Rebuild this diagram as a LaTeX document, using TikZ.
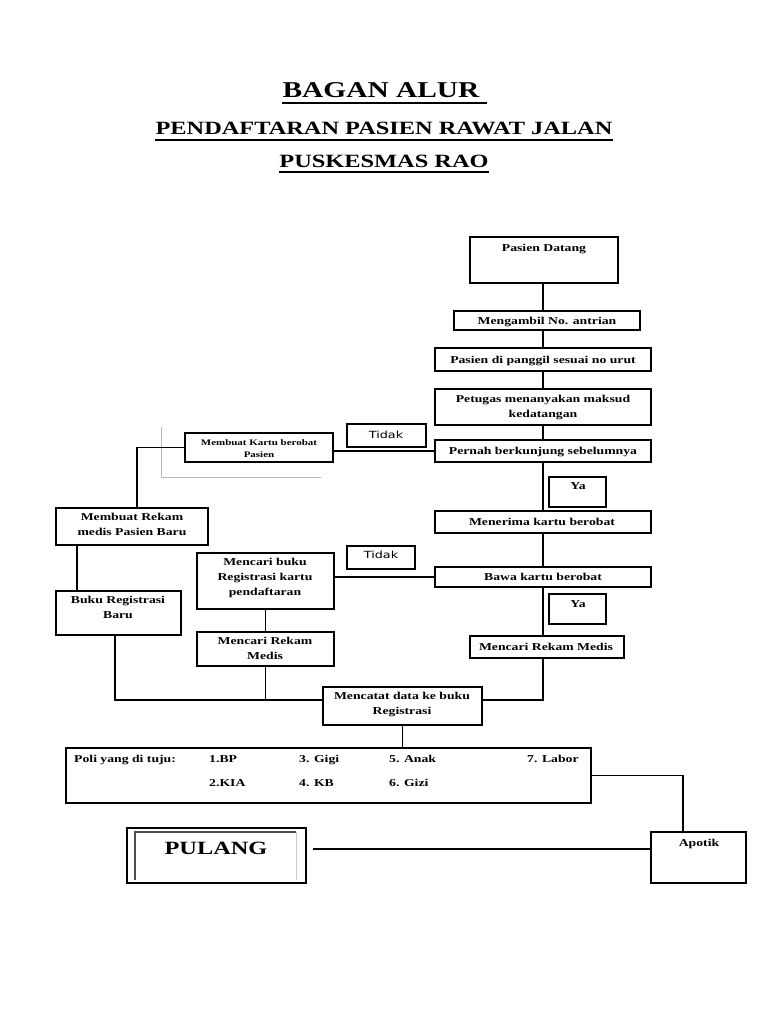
\documentclass[tikz,border=0pt]{standalone}
\usepackage{fontspec}
\setmainfont[FakeStretch=1.3]{Liberation Serif}
\newfontfamily\sansf[FakeStretch=1.3]{DejaVu Sans}
\usetikzlibrary{fit,calc}
\tikzset{
  bx/.style={draw, line width=1.1pt, fill=white, inner sep=0pt},
  ln/.style={line width=1pt},
  tx/.style={font=\fontsize{9}{12.6}\selectfont\bfseries, align=center, inner sep=0pt, anchor=base},
  txs/.style={font=\fontsize{7.2}{10}\selectfont\bfseries, align=center, inner sep=0pt, anchor=base},
  tid/.style={font=\sansf\fontsize{8.4}{10}\selectfont, inner sep=0pt, anchor=base},
  pl/.style={font=\fontsize{9}{12.6}\selectfont\bfseries, inner sep=0pt, anchor=base west},
  ttl/.style={inner sep=0pt, anchor=base},
  ul/.style={line width=1.2pt},
}
\begin{document}
\begin{tikzpicture}[x=0.03cm,y=-0.03cm]
\useasboundingbox[fill=white] (0,0) rectangle (768,1024);

% titles
\node[ttl, font=\fontsize{19.3}{22}\selectfont\bfseries] (t1) at (381,97) {BAGAN ALUR};
\draw[ul] (282,103) -- (487,103);
\node[ttl, font=\fontsize{16}{19}\selectfont\bfseries] (t2) at (384,134) {PENDAFTARAN PASIEN RAWAT JALAN};
\draw[ul] ($(t2.base west)+(0,6)$) -- ($(t2.base east)+(0,6)$);
\node[ttl, font=\fontsize{16}{19}\selectfont\bfseries] (t3) at (384,167) {PUSKESMAS RAO};
\draw[ul] ($(t3.base west)+(0,5)$) -- ($(t3.base east)+(0,5)$);

% helper coordinates
\coordinate (sp) at (543,0);
\coordinate (j) at (0,700);
\coordinate (c1) at (137,0);
\coordinate (c2) at (77,0);
\coordinate (c3) at (115,0);
\coordinate (c4) at (683,0);
\coordinate (pe) at (313,849);

% gray lines
\draw[gray!55, line width=0.7pt] (161,427) -- (161,477) -- (321,477);

% boxes
\node[bx, fit={(470,237) (618,283)}] (pd) {};
\node[bx, fit={(454,311) (640,330)}] (mg) {};
\node[bx, fit={(435,348) (651,371)}] (pg) {};
\node[bx, fit={(435,389) (651,425)}] (pt) {};
\node[bx, fit={(435,440) (651,462)}] (pn) {};
\node[bx, fit={(347,424) (426,447)}] (td1) {};
\node[bx, fit={(185,433) (333,462)}] (kt) {};
\node[bx, fit={(549,477) (606,507)}] (ya1) {};
\node[bx, fit={(435,511) (651,533)}] (mn) {};
\node[bx, fit={(56,508) (208,545)}] (mrb) {};
\node[bx, fit={(435,567) (651,587)}] (bw) {};
\node[bx, fit={(347,546) (415,569)}] (td2) {};
\node[bx, fit={(197,553) (334,609)}] (mb) {};
\node[bx, fit={(549,594) (606,624)}] (ya2) {};
\node[bx, fit={(470,636) (624,658)}] (mr) {};
\node[bx, fit={(56,591) (181,635)}] (brb) {};
\node[bx, fit={(197,632) (334,666)}] (mrl) {};
\node[bx, fit={(323,687) (482,725)}] (mc) {};
\node[bx, fit={(66,748) (591,803)}] (poli) {};
\node[bx, fit={(651,832) (746,883)}] (ap) {};
\node[bx, fit={(127,828) (306,883)}] (pul) {};

% connectors
\begin{scope}[ln]
\draw (pd.south -| sp) -- (mg.north -| sp);
\draw (mg.south -| sp) -- (pg.north -| sp);
\draw (pg.south -| sp) -- (pt.north -| sp);
\draw (pt.south -| sp) -- (pn.north -| sp);
\draw (pn.south -| sp) -- (mn.north -| sp);
\draw (mn.south -| sp) -- (bw.north -| sp);
\draw (bw.south -| sp) -- (mr.north -| sp);
\draw (mr.south -| sp) |- (mc.east |- j);
\draw (pn.west) -- (pn.west -| kt.east);
\draw (kt.west) -| (c1 |- mrb.north);
\draw (c2 |- mrb.south) -- (c2 |- brb.north);
\draw (bw.west) -- (bw.west -| mb.east);
\draw (mb.south) -- (mrl.north);
\draw (mrl.south) -- (mrl.south |- j);
\draw (c3 |- brb.south) |- (mc.west |- j);
\draw (mc.south) -- (mc.south |- poli.north);
\draw (poli.east) -| (c4 |- ap.north);
\draw (ap.west |- pe) -- (pe);
\end{scope}

% PULANG inner frame
\draw[black!70, line width=1.1pt] (135,880) -- (135,832) -- (296,832);
\draw[gray!40, line width=0.8pt] (296,832) -- (296,880);

% texts (base anchor of a multi-line node = last line's baseline)
\node[tx] (tpd) at (544,251) {Pasien Datang};
\node[tx] (tmg) at (547,324) {Mengambil No. antrian};
\node[tx] (tpg) at (543,363) {Pasien di panggil sesuai no urut};
\node[tx] (tpt) at (543,417) {Petugas menanyakan maksud\\kedatangan};
\node[tx] (tpn) at (543,454) {Pernah berkunjung sebelumnya};
\node[tid] (ttd1) at (386,438) {Tidak};
\node[txs] (tkt) at (259,457) {Membuat Kartu berobat\\Pasien};
\node[tx] (tya1) at (578,489) {Ya};
\node[tx] (tmn) at (542,525) {Menerima kartu berobat};
\node[tx] (tmrb) at (132,535) {Membuat Rekam\\medis Pasien Baru};
\node[tx] (tbw) at (543,580) {Bawa kartu berobat};
\node[tid] (ttd2) at (381,558) {Tidak};
\node[tx] (tmb) at (265,595) {Mencari buku\\Registrasi kartu\\pendaftaran};
\node[tx] (tya2) at (578,607) {Ya};
\node[tx] (tmr) at (546,650) {Mencari Rekam Medis};
\node[tx] (tbrb) at (118,618) {Buku Registrasi\\Baru};
\node[tx] (tmrl) at (265,659) {Mencari Rekam\\Medis};
\node[tx] (tmc) at (402,714) {Mencatat data ke buku\\Registrasi};
\node[pl] (p0) at (74,762) {Poli yang di tuju:};
\node[pl] (p1) at (209,762) {1.BP};
\node[pl] (p3) at (299,762) {3. Gigi};
\node[pl] (p5) at (389,762) {5. Anak};
\node[pl] (p7) at (527,762) {7. Labor};
\node[pl] (p2) at (209,786) {2.KIA};
\node[pl] (p4) at (299,786) {4. KB};
\node[pl] (p6) at (389,786) {6. Gizi};
\node[tx] (tap) at (699,846) {Apotik};
\node[ttl, font=\fontsize{16}{19}\selectfont\bfseries] (tpul) at (216,854) {PULANG};
\end{tikzpicture}
\end{document}
